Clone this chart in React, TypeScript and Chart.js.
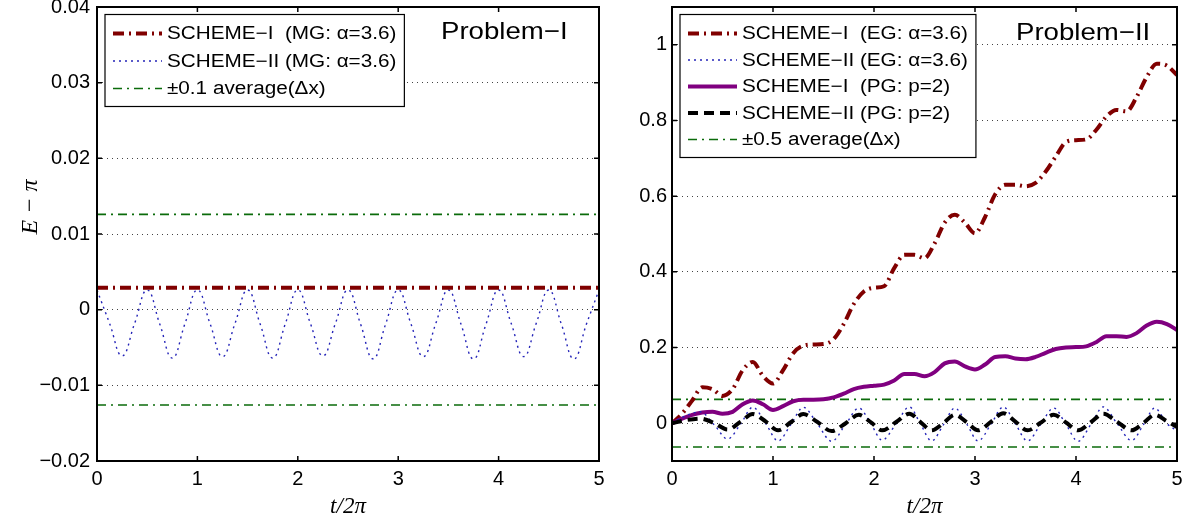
import React, { useEffect, useRef } from 'react';
import { Chart, registerables } from 'chart.js';

Chart.register(...registerables);

const SANS = "'Liberation Sans', Arial, Helvetica, sans-serif";
const SERIF = "'Liberation Serif', 'DejaVu Serif', serif";

// ---------- shared axis data ----------
const xTicks = [0, 1, 2, 3, 4, 5];
const xTickLabels = ['0', '1', '2', '3', '4', '5'];
const tRange = [0, 5];

// ---------- Problem-I ----------
const yTicksLeft = [-0.02, -0.01, 0, 0.01, 0.02, 0.03, 0.04];
const yTickLabelsLeft = ['\u22120.02', '\u22120.01', '0', '0.01', '0.02', '0.03', '0.04'];

const tMG = [
  0, 0.125, 0.25, 0.375, 0.5, 0.625, 0.75, 0.875, 1.0, 1.125, 1.25, 1.375, 1.5, 1.625, 1.75, 1.875,
  2.0, 2.125, 2.25, 2.375, 2.5, 2.625, 2.75, 2.875, 3.0, 3.125, 3.25, 3.375, 3.5, 3.625, 3.75, 3.875,
  4.0, 4.125, 4.25, 4.375, 4.5, 4.625, 4.75, 4.875, 5.0,
];
const schemeI_MG = [0.0029, 0.0029];
const schemeII_MG = [
  0.0026, -0.0018, -0.0061, -0.0018, 0.0026, -0.0019, -0.0064, -0.0019,
  0.0026, -0.0018, -0.0062, -0.0018, 0.0026, -0.0019, -0.0064, -0.0019,
  0.0026, -0.0018, -0.0061, -0.0018, 0.0026, -0.0019, -0.0065, -0.0019,
  0.0026, -0.0018, -0.0062, -0.0018, 0.0026, -0.0019, -0.0065, -0.0019,
  0.0026, -0.0018, -0.0062, -0.0018, 0.0026, -0.0019, -0.0065, -0.0019,
  0.0026,
];
const bandLeft = [0.0126, -0.0126];

// ---------- Problem-II ----------
const yTicksRight = [0, 0.2, 0.4, 0.6, 0.8, 1];
const yTickLabelsRight = ['0', '0.2', '0.4', '0.6', '0.8', '1'];

const tFine = [
  0, 0.1, 0.2, 0.3, 0.4, 0.5, 0.6, 0.7, 0.8, 0.9, 1.0, 1.1, 1.2, 1.3, 1.4, 1.5, 1.6, 1.7, 1.8, 1.9,
  2.0, 2.1, 2.2, 2.3, 2.4, 2.5, 2.6, 2.7, 2.8, 2.9, 3.0, 3.1, 3.2, 3.3, 3.4, 3.5, 3.6, 3.7, 3.8, 3.9,
  4.0, 4.1, 4.2, 4.3, 4.4, 4.5, 4.6, 4.7, 4.8, 4.9, 5.0,
];
const schemeI_EG = [
  0, 0.025, 0.06, 0.095, 0.09, 0.072, 0.09, 0.14, 0.162, 0.125,
  0.105, 0.14, 0.185, 0.205, 0.208, 0.209, 0.222, 0.262, 0.315, 0.348,
  0.358, 0.362, 0.41, 0.445, 0.445, 0.436, 0.475, 0.53, 0.551, 0.53,
  0.502, 0.545, 0.605, 0.63, 0.63, 0.626, 0.635, 0.665, 0.705, 0.743,
  0.748, 0.75, 0.775, 0.81, 0.828, 0.824, 0.862, 0.915, 0.95, 0.945,
  0.92,
];
const schemeI_PG = [
  0, 0.012, 0.022, 0.028, 0.03, 0.025, 0.03, 0.05, 0.06, 0.05,
  0.035, 0.045, 0.058, 0.062, 0.062, 0.063, 0.068, 0.078, 0.09, 0.096,
  0.099, 0.102, 0.113, 0.13, 0.13, 0.124, 0.135, 0.158, 0.163, 0.15,
  0.142, 0.155, 0.175, 0.177, 0.171, 0.169, 0.175, 0.186, 0.196, 0.2,
  0.201, 0.203, 0.214, 0.23, 0.23, 0.228, 0.238, 0.258, 0.268, 0.262,
  0.246,
];
const tOsc = [
  0, 0.14, 0.28, 0.42, 0.55, 0.68, 0.8, 0.93, 1.05, 1.18, 1.3, 1.44, 1.58, 1.72, 1.85, 1.97,
  2.08, 2.22, 2.35, 2.46, 2.57, 2.69, 2.8, 2.92, 3.03, 3.16, 3.28, 3.4, 3.52, 3.65, 3.78, 3.9,
  4.02, 4.15, 4.27, 4.41, 4.55, 4.67, 4.78, 4.9, 5.0,
];
const schemeII_EG = [
  0, 0.02, 0.03, -0.005, -0.042, -0.002, 0.042, -0.002, -0.047, -0.002,
  0.042, -0.002, -0.048, -0.003, 0.04, -0.002, -0.045, -0.001, 0.043, -0.002,
  -0.047, -0.003, 0.04, -0.003, -0.047, -0.002, 0.043, -0.002, -0.047, -0.003,
  0.04, -0.003, -0.048, -0.002, 0.043, -0.002, -0.046, -0.003, 0.04, -0.001,
  -0.02,
];
const schemeII_PG = [
  0, 0.008, 0.012, 0.0, -0.017, 0.004, 0.024, 0.004, -0.019, 0.003,
  0.024, 0.003, -0.021, 0.0, 0.022, 0.002, -0.019, 0.003, 0.025, 0.003,
  -0.019, 0.001, 0.022, 0.002, -0.019, 0.004, 0.026, 0.004, -0.019, 0.001,
  0.022, 0.002, -0.019, 0.003, 0.025, 0.003, -0.019, 0.001, 0.022, 0.005,
  -0.01,
];
const bandRight = [0.063, -0.063];

// ---------- helpers ----------
const pts = (xs: number[], ys: number[]) => xs.map((x, i) => ({ x, y: ys[i] }));
const flat = (v: number) => [{ x: tRange[0], y: v }, { x: tRange[1], y: v }];

const RED = '#800000';
const BLUE = '#2424b8';
const GREEN = '#0b6b0b';
const PURPLE = '#800080';
const STRETCH = 1.15;

function stretchedText(ctx: CanvasRenderingContext2D, text: string, x: number, y: number) {
  ctx.save();
  ctx.translate(x, y);
  ctx.scale(STRETCH, 1);
  ctx.fillText(text, 0, 0);
  ctx.restore();
}

const panelPlugin = {
  id: 'panelDecor',
  afterDatasetsDraw(chart: any, _args: any, opts: any) {
    const { ctx, chartArea: a, scales } = chart;
    ctx.save();
    // frame
    ctx.setLineDash([]);
    ctx.strokeStyle = '#000';
    ctx.lineWidth = 2;
    ctx.strokeRect(a.left, a.top, a.right - a.left, a.bottom - a.top);
    // inward ticks
    ctx.lineWidth = 1.5;
    const tl = 5;
    ctx.beginPath();
    scales.x.ticks.forEach((t: any) => {
      const px = scales.x.getPixelForValue(t.value);
      ctx.moveTo(px, a.bottom);
      ctx.lineTo(px, a.bottom - tl);
      ctx.moveTo(px, a.top);
      ctx.lineTo(px, a.top + tl);
    });
    scales.y.ticks.forEach((t: any) => {
      const py = scales.y.getPixelForValue(t.value);
      ctx.moveTo(a.left, py);
      ctx.lineTo(a.left + tl, py);
      ctx.moveTo(a.right, py);
      ctx.lineTo(a.right - tl, py);
    });
    ctx.stroke();

    // panel title inside plot
    ctx.fillStyle = '#000';
    ctx.font = `24px ${SANS}`;
    ctx.textAlign = 'left';
    ctx.textBaseline = 'alphabetic';
    stretchedText(ctx, opts.title, a.left + 344, a.top + opts.titleBaseline);

    // legend
    const items = opts.legend as { label: string; ds: number }[];
    ctx.font = `18px ${SANS}`;
    const maxW = Math.max(...items.map((it) => ctx.measureText(it.label).width)) * STRETCH;
    const bx = a.left + 8;
    const by = a.top + 7.5;
    const bw = 62 + maxW + 8;
    const bh = 37 + (items.length - 1) * opts.rowGap;
    ctx.fillStyle = '#fff';
    ctx.fillRect(bx, by, bw, bh);
    ctx.strokeStyle = '#000';
    ctx.lineWidth = 1.2;
    ctx.strokeRect(bx, by, bw, bh);
    items.forEach((it, i) => {
      const ds = chart.data.datasets[it.ds];
      const cy = by + 19 + i * opts.rowGap;
      ctx.save();
      ctx.strokeStyle = ds.borderColor;
      ctx.lineWidth = ds.borderWidth;
      ctx.setLineDash(ds.borderDash || []);
      ctx.beginPath();
      ctx.moveTo(bx + 8, cy);
      ctx.lineTo(bx + 57, cy);
      ctx.stroke();
      ctx.restore();
      ctx.fillStyle = '#000';
      ctx.textBaseline = 'middle';
      stretchedText(ctx, it.label, bx + 62, cy + 1);
    });
    ctx.restore();
  },
};

function xScale() {
  return {
    type: 'linear',
    min: tRange[0],
    max: tRange[1],
    afterBuildTicks: (s: any) => {
      s.ticks = xTicks.map((v) => ({ value: v }));
    },
    ticks: {
      font: { size: 20, family: SANS },
      color: '#000',
      padding: 6,
      maxRotation: 0,
      callback: (_v: any, i: number) => xTickLabels[i],
    },
    grid: { display: false, drawTicks: false },
    border: { display: false },
    title: {
      display: true,
      text: 't/2\u03c0',
      font: { size: 23, family: SERIF, style: 'italic' },
      color: '#000',
      padding: { top: 0, bottom: 4 },
    },
    afterFit: (s: any) => {
      s.height = 64;
      s.paddingLeft = 0;
      s.paddingRight = 0;
    },
  };
}

function yScale(min: number, max: number, ticks: number[], labels: string[], width: number, pad: number, title?: string) {
  return {
    type: 'linear',
    min,
    max,
    afterBuildTicks: (s: any) => {
      s.ticks = ticks.map((v) => ({ value: v }));
    },
    ticks: {
      font: { size: 20, family: SANS },
      color: '#000',
      padding: pad,
      callback: (_v: any, i: number) => labels[i],
    },
    grid: { color: '#444', lineWidth: 1, drawTicks: false },
    border: { display: false, dash: [1, 4] },
    title: title
      ? {
          display: true,
          text: title,
          font: { size: 24, family: SERIF, style: 'italic' },
          color: '#000',
          padding: { top: 16, bottom: 0 },
        }
      : { display: false },
    afterFit: (s: any) => {
      s.width = width;
      s.paddingTop = 0;
      s.paddingBottom = 0;
    },
  };
}

const lineBase = { pointRadius: 0, fill: false, borderCapStyle: 'butt', cubicInterpolationMode: 'monotone' };

// leading no-break spaces keep the rotated label where the reference puts it (above the axis middle)
const yTitleLeft = '\u00a0\u00a0\u00a0\u00a0\u00a0\u00a0\u00a0\u00a0\u00a0E \u2212 \u03c0';

function leftConfig(): any {
  return {
    type: 'line',
    data: {
      datasets: [
        { ...lineBase, label: 'SCHEME\u2212I  (MG: \u03b1=3.6)', data: flat(schemeI_MG[0]), borderColor: RED, borderWidth: 4, borderDash: [11, 5, 2, 5], order: 1 },
        { ...lineBase, label: 'SCHEME\u2212II (MG: \u03b1=3.6)', data: pts(tMG, schemeII_MG), borderColor: BLUE, borderWidth: 1.4, borderDash: [2, 4], order: 2, cubicInterpolationMode: 'default', tension: 0.45 },
        { ...lineBase, label: '\u00b10.1 average(\u0394x)', data: flat(bandLeft[0]), borderColor: GREEN, borderWidth: 1.6, borderDash: [9, 5, 2, 5], order: 3 },
        { ...lineBase, label: 'lower', data: flat(bandLeft[1]), borderColor: GREEN, borderWidth: 1.6, borderDash: [9, 5, 2, 5], order: 4 },
      ],
    },
    options: {
      animation: false,
      responsive: false,
      events: [],
      layout: { padding: { top: 7, right: 21, left: 0, bottom: 0 } },
      scales: {
        x: xScale(),
        y: yScale(-0.02, 0.04, yTicksLeft, yTickLabelsLeft, 97, 7, yTitleLeft),
      },
      plugins: {
        legend: { display: false },
        tooltip: { enabled: false },
        panelDecor: {
          title: 'Problem\u2212I',
          titleBaseline: 32,
          rowGap: 27.5,
          legend: [
            { label: 'SCHEME\u2212I  (MG: \u03b1=3.6)', ds: 0 },
            { label: 'SCHEME\u2212II (MG: \u03b1=3.6)', ds: 1 },
            { label: '\u00b10.1 average(\u0394x)', ds: 2 },
          ],
        },
      },
    },
    plugins: [panelPlugin],
  };
}

function rightConfig(): any {
  return {
    type: 'line',
    data: {
      datasets: [
        { ...lineBase, label: 'SCHEME\u2212I  (EG: \u03b1=3.6)', data: pts(tFine, schemeI_EG), borderColor: RED, borderWidth: 4, borderDash: [11, 5, 2, 5], order: 4 },
        { ...lineBase, label: 'SCHEME\u2212II (EG: \u03b1=3.6)', data: pts(tOsc, schemeII_EG), borderColor: BLUE, borderWidth: 1.4, borderDash: [2, 4], order: 2 },
        { ...lineBase, label: 'SCHEME\u2212I  (PG: p=2)', data: pts(tFine, schemeI_PG), borderColor: PURPLE, borderWidth: 4, borderDash: [], order: 3 },
        { ...lineBase, label: 'SCHEME\u2212II (PG: p=2)', data: pts(tOsc, schemeII_PG), borderColor: '#000', borderWidth: 4, borderDash: [10, 6], order: 1 },
        { ...lineBase, label: '\u00b10.5 average(\u0394x)', data: flat(bandRight[0]), borderColor: GREEN, borderWidth: 1.6, borderDash: [9, 5, 2, 5], order: 5 },
        { ...lineBase, label: 'lower', data: flat(bandRight[1]), borderColor: GREEN, borderWidth: 1.6, borderDash: [9, 5, 2, 5], order: 6 },
      ],
    },
    options: {
      animation: false,
      responsive: false,
      events: [],
      layout: { padding: { top: 7, right: 7, left: 0, bottom: 0 } },
      scales: {
        x: xScale(),
        y: yScale(-0.1, 1.1, yTicksRight, yTickLabelsRight, 52, 5),
      },
      plugins: {
        legend: { display: false },
        tooltip: { enabled: false },
        panelDecor: {
          title: 'Problem\u2212II',
          titleBaseline: 33,
          rowGap: 26.5,
          legend: [
            { label: 'SCHEME\u2212I  (EG: \u03b1=3.6)', ds: 0 },
            { label: 'SCHEME\u2212II (EG: \u03b1=3.6)', ds: 1 },
            { label: 'SCHEME\u2212I  (PG: p=2)', ds: 2 },
            { label: 'SCHEME\u2212II (PG: p=2)', ds: 3 },
            { label: '\u00b10.5 average(\u0394x)', ds: 4 },
          ],
        },
      },
    },
    plugins: [panelPlugin],
  };
}

function Panel({ left, width, build }: { left: number; width: number; build: () => any }) {
  const ref = useRef<HTMLCanvasElement>(null);
  useEffect(() => {
    const chart = new Chart(ref.current as HTMLCanvasElement, build());
    return () => chart.destroy();
  }, []);
  return (
    <canvas
      ref={ref}
      width={width}
      height={525}
      style={{ position: 'absolute', left, top: 0, width, height: 525, display: 'block' }}
    />
  );
}

export default function App() {
  return (
    <div style={{ position: 'fixed', left: 0, top: 0, width: 1184, height: 525, background: '#fff', overflow: 'hidden' }}>
      <Panel left={0} width={620} build={leftConfig} />
      <Panel left={620} width={564} build={rightConfig} />
    </div>
  );
}
